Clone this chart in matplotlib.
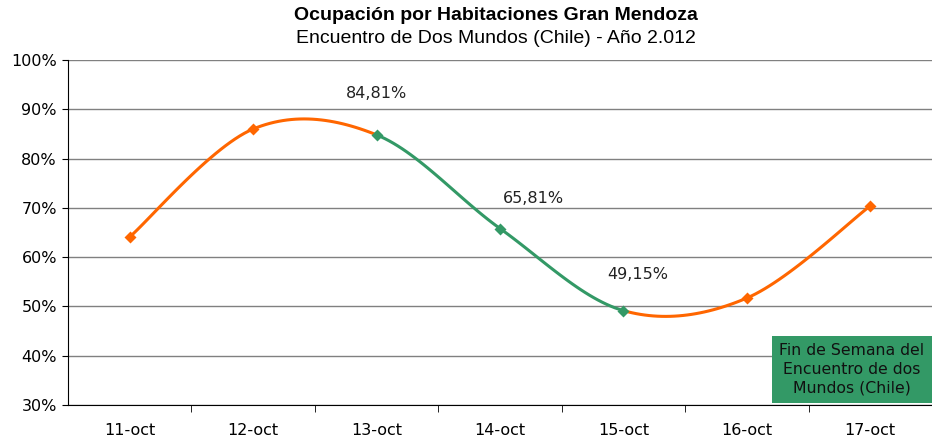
import numpy as np
import matplotlib
matplotlib.use("Agg")
import matplotlib.pyplot as plt
from matplotlib.patches import Rectangle

# data
dias = ["11-oct", "12-oct", "13-oct", "14-oct", "15-oct", "16-oct", "17-oct"]
ocupacion = [64.1, 86.0, 84.81, 65.81, 49.15, 51.7, 70.4]
evento = [False, False, True, True, True, False, False]  # weekend of the event
etiquetas = {2: "84,81%", 3: "65,81%", 4: "49,15%"}

NARANJA = "#ff6600"
VERDE = "#339966"


def catmull_rom(x, y, n=30):
    """Excel-style smoothed line, one piece per segment"""
    px = np.concatenate([[x[0]], x, [x[-1]]])
    py = np.concatenate([[y[0]], y, [y[-1]]])
    pieces = []
    for i in range(1, len(px) - 2):
        t = np.linspace(0, 1, n)[:, None]
        p0 = np.array([px[i - 1], py[i - 1]])
        p1 = np.array([px[i], py[i]])
        p2 = np.array([px[i + 1], py[i + 1]])
        p3 = np.array([px[i + 2], py[i + 2]])
        c1 = p1 + (p2 - p0) / 6.0
        c2 = p2 - (p3 - p1) / 6.0
        b = ((1 - t) ** 3) * p1 + 3 * ((1 - t) ** 2) * t * c1 + 3 * (1 - t) * t ** 2 * c2 + t ** 3 * p2
        pieces.append(b)
    return pieces


plt.rcParams['font.family'] = ['DejaVu Sans']
fig = plt.figure(figsize=(9.32, 4.4), dpi=100)
ax = fig.add_axes([68 / 932, 1 - 405 / 440, 864 / 932, 345 / 440])

xs = np.arange(len(dias))
pieces = catmull_rom(xs.astype(float), np.array(ocupacion))
for i, seg in enumerate(pieces):
    col = VERDE if (evento[i] and evento[i + 1]) else NARANJA
    ax.plot(seg[:, 0], seg[:, 1], color=col, lw=2.2, solid_capstyle="butt", zorder=3)

for i in range(len(dias)):
    ax.plot(xs[i], ocupacion[i], marker="D", ms=6, color=VERDE if evento[i] else NARANJA,
            mec="none", zorder=4)

offsets = {2: (0.0, 8.3), 3: (0.27, 6.0), 4: (0.12, 7.4)}
for i, txt in etiquetas.items():
    dx, dy = offsets[i]
    ax.text(xs[i] + dx, ocupacion[i] + dy, txt, ha="center", va="center", fontsize=11.5, color="#222222")

ax.set_xlim(-0.5, len(dias) - 0.5)
ax.set_ylim(30, 100)
ax.set_yticks(np.arange(30, 101, 10))
ax.set_yticklabels(["%d%%" % v for v in range(30, 101, 10)], fontsize=11.5)
ax.set_xticks(xs)
ax.set_xticklabels(dias, fontsize=11.5)
ax.set_xticks(np.arange(0.5, len(dias) - 0.5, 1), minor=True)
ax.tick_params(axis="x", which="major", length=0, pad=13)
ax.tick_params(axis="x", which="minor", length=5, direction="out", color="black")
ax.tick_params(axis="y", length=4, direction="out", pad=4)
ax.yaxis.grid(True, color="#808080", lw=1)
ax.set_axisbelow(True)
for s in ["top", "right"]:
    ax.spines[s].set_visible(False)
ax.spines["left"].set_color("black")
ax.spines["bottom"].set_color("black")

# legend-like box for the event weekend
box = Rectangle((772 / 932, 1 - 403 / 440), 160 / 932, 67 / 440, transform=fig.transFigure,
                facecolor=VERDE, edgecolor="none", zorder=5)
fig.patches.append(box)
fig.text(852 / 932, 1 - 369.5 / 440, "Fin de Semana del\nEncuentro de dos\nMundos (Chile)",
         ha="center", va="center", fontsize=11.3, color="#111111", linespacing=1.3, zorder=6)

fig.text(496 / 932, 1 - 16 / 440, "Ocupación por Habitaciones Gran Mendoza", ha="center", va="center",
         fontsize=14, fontweight="bold", family="Liberation Sans")
fig.text(496 / 932, 1 - 38 / 440, "Encuentro de Dos Mundos (Chile) - Año 2.012", ha="center", va="center",
         fontsize=14, family="Liberation Sans")

fig.savefig("out.png", dpi=100)
